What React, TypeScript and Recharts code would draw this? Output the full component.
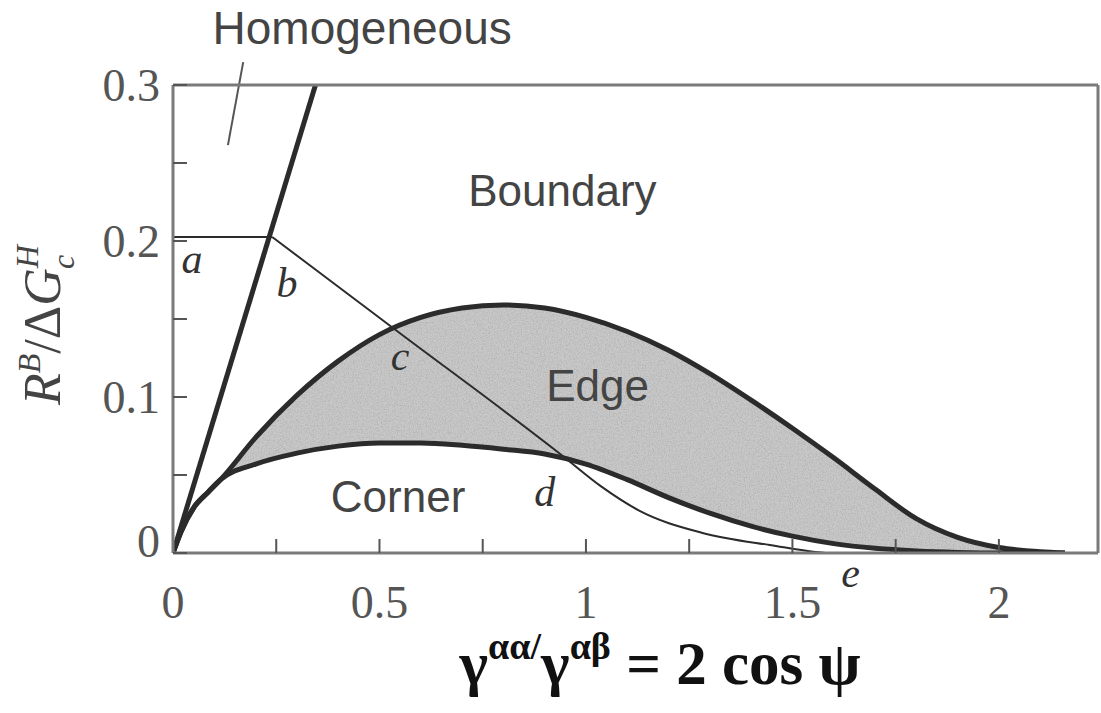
import React from "react";
import {
  Area,
  ComposedChart,
  Line,
  ReferenceDot,
  ReferenceLine,
  XAxis,
  YAxis,
} from "recharts";

// common stem of the corner/edge limits, origin up to the branch point
const stemX = [0, 0.02, 0.05, 0.085, 0.115];
const stemY = [0, 0.014, 0.029, 0.039, 0.047];

// edge band: upper limit (edge | boundary) and lower limit (corner | edge)
const edgeX = [0.115, 0.2, 0.3, 0.4, 0.5, 0.6, 0.7, 0.8, 0.9, 1.0, 1.1, 1.2, 1.3, 1.4, 1.5, 1.6, 1.7, 1.8, 1.9, 2.0, 2.1, 2.16];
const edgeUpper = [0.047, 0.074, 0.101, 0.123, 0.14, 0.151, 0.157, 0.159, 0.157, 0.151, 0.142, 0.13, 0.115, 0.098, 0.08, 0.061, 0.041, 0.022, 0.01, 0.0035, 0.0008, 0];
const edgeLower = [0.047, 0.057, 0.064, 0.0685, 0.0705, 0.0705, 0.069, 0.0665, 0.0635, 0.057, 0.047, 0.0355, 0.0255, 0.0172, 0.0108, 0.006, 0.003, 0.0013, 0.0004, 0, 0, 0];

// thin boundary line a-b-c-d-e
const flatX = [0, 0.24];
const flatY = [0.2026, 0.2026];
const boundaryX = [0.24, 0.34, 0.54, 0.94, 1.035, 1.13, 1.28, 1.46, 1.55, 1.58];
const boundaryY = [0.2026, 0.1827, 0.1428, 0.063, 0.043, 0.027, 0.013, 0.0045, 0.0008, 0];

// homogeneous limit
const homX = [0, 0.345];
const homY = [0, 0.3];

const xTicks = [0, 0.25, 0.5, 0.75, 1, 1.25, 1.5, 1.75, 2];
const yTicks = [0, 0.05, 0.1, 0.15, 0.2, 0.25, 0.3];
const xLabelled = [0, 0.5, 1, 1.5, 2];
const yLabelled = [0, 0.1, 0.2, 0.3];

const regionNames = ["Homogeneous", "Boundary", "Edge", "Corner"];
const regionX = [0.458, 0.943, 1.028, 0.545];
const regionY = [0.3365, 0.2327, 0.1077, 0.036];

const pointNames = ["a", "b", "c", "d", "e"];
const pointX = [0.046, 0.276, 0.55, 0.9, 1.641];
const pointY = [0.189, 0.1737, 0.127, 0.04, -0.0122];

const zip = (xs: number[], ys: number[]) => xs.map((x, i) => ({ x, y: ys[i] }));

const upperData = zip([...stemX, ...edgeX.slice(1)], [...stemY, ...edgeUpper.slice(1)]);
const lowerData = zip([...stemX, ...edgeX.slice(1)], [...stemY, ...edgeLower.slice(1)]);
const bandData = edgeX.map((x, i) => ({ x, band: [edgeLower[i], edgeUpper[i]] }));
const flatData = zip(flatX, flatY);
const boundaryData = zip(boundaryX, boundaryY);
const homData = zip(homX, homY);

const SERIF = "'Liberation Serif', 'Times New Roman', serif";
const SANS = "'Liberation Sans', Arial, sans-serif";
const INK = "#2b2b2b";
const FRAME = "#7a7a7a";
const frameLine = { stroke: FRAME, strokeWidth: 3 };
const tickStroke = { stroke: "#555", strokeWidth: 2 };

function XTick(props: any) {
  const { x, y, payload } = props;
  if (!xLabelled.includes(payload.value)) return null;
  return (
    <text x={x} y={y} dy="0.71em" textAnchor="middle" fontFamily={SERIF} fontSize={46} fill="#555">
      {String(payload.value)}
    </text>
  );
}

function YTick(props: any) {
  const { x, y, payload } = props;
  if (!yLabelled.some((v) => Math.abs(v - payload.value) < 1e-9)) return null;
  const shift = payload.value === 0 ? -12 : 0;
  return (
    <text x={x} y={y + shift} dy="0.35em" textAnchor="end" fontFamily={SERIF} fontSize={46} fill="#555">
      {String(Number(payload.value.toFixed(2)))}
    </text>
  );
}

export default function App() {
  return (
    <div style={{ position: "relative", width: 1101, height: 713, background: "#fff" }}>
      <style>{"body{margin:0}"}</style>
      {/* speckled grey used for the edge band */}
      <svg width={0} height={0} style={{ position: "absolute" }}>
        <defs>
          <filter id="grain" x="0" y="0" width="100%" height="100%">
            <feTurbulence type="fractalNoise" baseFrequency="0.75" numOctaves="2" seed="4" result="noise" />
            <feColorMatrix
              in="noise"
              type="matrix"
              values="0 0 0 0 0.3  0 0 0 0 0.3  0 0 0 0 0.3  1.1 0 0 0 -0.42"
              result="speck"
            />
            <feComposite in="speck" in2="SourceGraphic" operator="in" result="clipped" />
            <feMerge>
              <feMergeNode in="SourceGraphic" />
              <feMergeNode in="clipped" />
            </feMerge>
          </filter>
          <pattern id="edgeFill" width={240} height={240} patternUnits="userSpaceOnUse">
            <rect width={240} height={240} fill="#c9c9c9" filter="url(#grain)" />
          </pattern>
        </defs>
      </svg>

      <ComposedChart width={1101} height={713} margin={{ top: 75, right: 0, bottom: 100, left: 113 }}>
        <XAxis
          dataKey="x"
          type="number"
          domain={[0, 2.24]}
          allowDataOverflow
          ticks={xTicks}
          height={60}
          tickSize={-14}
          tickMargin={46}
          tick={<XTick />}
          axisLine={frameLine}
          tickLine={tickStroke}
          interval={0}
        />
        <XAxis
          xAxisId="top"
          orientation="top"
          type="number"
          domain={[0, 2.24]}
          allowDataOverflow
          ticks={xTicks}
          height={10}
          tickSize={-14}
          tick={false}
          axisLine={frameLine}
          tickLine={tickStroke}
          interval={0}
        />
        <YAxis
          type="number"
          domain={[0, 0.3]}
          allowDataOverflow
          ticks={yTicks}
          width={60}
          tickSize={-14}
          tickMargin={27}
          tick={<YTick />}
          axisLine={frameLine}
          tickLine={tickStroke}
          interval={0}
        />
        <YAxis
          yAxisId="right"
          orientation="right"
          type="number"
          domain={[0, 0.3]}
          allowDataOverflow
          ticks={yTicks}
          width={3}
          tickSize={-14}
          tick={false}
          axisLine={frameLine}
          tickLine={tickStroke}
          interval={0}
        />

        <Area
          data={bandData}
          dataKey="band"
          type="monotone"
          fill="url(#edgeFill)"
          fillOpacity={1}
          stroke="none"
          isAnimationActive={false}
          activeDot={false}
        />

        <Line data={flatData} dataKey="y" type="linear" stroke={INK} strokeWidth={2} dot={false} activeDot={false} isAnimationActive={false} />
        <Line data={boundaryData} dataKey="y" type="monotone" stroke={INK} strokeWidth={2} dot={false} activeDot={false} isAnimationActive={false} />
        <Line data={upperData} dataKey="y" type="monotone" stroke={INK} strokeWidth={5} dot={false} activeDot={false} isAnimationActive={false} />
        <Line data={lowerData} dataKey="y" type="monotone" stroke={INK} strokeWidth={5} dot={false} activeDot={false} isAnimationActive={false} />
        <Line data={homData} dataKey="y" type="linear" stroke={INK} strokeWidth={5} dot={false} activeDot={false} isAnimationActive={false} />

        {/* leader from the "Homogeneous" caption down into its region */}
        <ReferenceLine
          segment={[
            { x: 0.133, y: 0.2615 },
            { x: 0.17, y: 0.3147 },
          ]}
          stroke="#555"
          strokeWidth={2}
          ifOverflow="visible"
        />

        {regionNames.map((name, i) => (
          <ReferenceDot
            key={name}
            x={regionX[i]}
            y={regionY[i]}
            r={0}
            fill="none"
            stroke="none"
            ifOverflow="visible"
            label={{ value: name, position: "center", fill: "#444", fontSize: i === 0 ? 46 : 44, fontFamily: SANS }}
          />
        ))}
        {pointNames.map((name, i) => (
          <ReferenceDot
            key={name}
            x={pointX[i]}
            y={pointY[i]}
            r={0}
            fill="none"
            stroke="none"
            ifOverflow="visible"
            label={{ value: name, position: "center", fill: "#333", fontSize: 42, fontFamily: SERIF, fontStyle: "italic" }}
          />
        ))}
      </ComposedChart>

      <svg width={1101} height={713} style={{ position: "absolute", left: 0, top: 0, pointerEvents: "none" }}>
        <text
          transform="translate(60,325) rotate(-90)"
          textAnchor="middle"
          fontFamily={SERIF}
          fontSize={52}
          fill="#444"
        >
          <tspan fontStyle="italic">R</tspan>
          <tspan fontStyle="italic" fontSize={32} dy={-20}>B</tspan>
          <tspan dy={20}>/Δ</tspan>
          <tspan fontStyle="italic">G</tspan>
          <tspan fontStyle="italic" fontSize={32} dy={-22}>H</tspan>
          <tspan fontStyle="italic" fontSize={32} dx={-24} dy={36}>c</tspan>
        </text>
        <text x={660} y={684} textAnchor="middle" fontFamily={SERIF} fontWeight="bold" fontSize={61} fill="#111">
          <tspan>γ</tspan>
          <tspan fontSize={38} dy={-25}>αα/</tspan>
          <tspan dy={25}>γ</tspan>
          <tspan fontSize={38} dy={-25}>αβ</tspan>
          <tspan dy={25}> = 2 cos ψ</tspan>
        </text>
      </svg>
    </div>
  );
}
